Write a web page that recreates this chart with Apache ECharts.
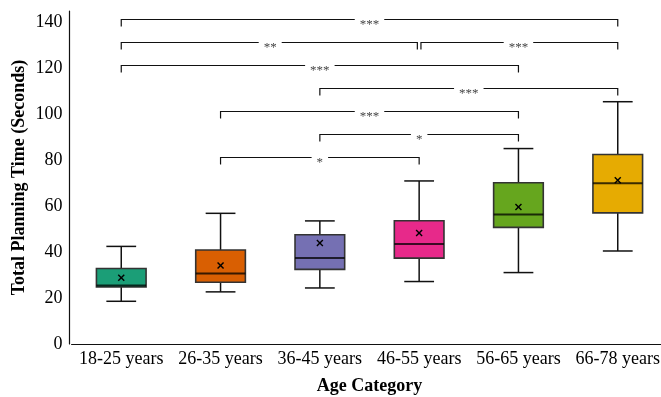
<!DOCTYPE html>
<html><head><meta charset="utf-8">
<script src="https://cdn.jsdelivr.net/npm/echarts@6/dist/echarts.min.js"></script>
<style>html,body{margin:0;padding:0;background:#fff}#c{width:661px;height:397px}</style>
</head><body><div id="c"></div>
<script>
var categories = ['18-25 years','26-35 years','36-45 years','46-55 years','56-65 years','66-78 years'];
var whiskerLow  = [18.6, 22.7, 24.4, 27.2, 31.1, 40.5];
var q1          = [24.8, 26.9, 32.5, 37.4, 50.8, 57.1];
var median      = [25.5, 30.7, 37.4, 43.5, 56.4, 70.0];
var q3          = [32.9, 40.9, 47.6, 53.7, 70.2, 82.5];
var whiskerHigh = [42.5, 56.9, 53.6, 71.0, 85.1, 105.5];
var means       = [28.8, 34.2, 44.0, 48.3, 59.7, 71.3];
var boxColors = ['#1b9e77','#d95f02','#7570b3','#e7298a','#66a61e','#e6ab02'];
var yTicks = [0, 20, 40, 60, 80, 100, 120, 140];

var bracketFrom   = [0, 0, 3, 0, 2, 1, 2, 1];
var bracketTo     = [5, 3, 5, 4, 5, 4, 4, 3];
var bracketLevel  = [141.5, 131.5, 131.5, 121.5, 111.5, 101.5, 91.5, 81.5];
var bracketLabels = ['***', '**', '***', '***', '***', '***', '*', '*'];

var boxData = categories.map(function (c, i) {
  return [i, whiskerLow[i], q1[i], median[i], q3[i], whiskerHigh[i], means[i]];
});
var bracketData = bracketFrom.map(function (f, i) {
  return [f, bracketTo[i], bracketLevel[i]];
});

function renderBox(params, api) {
  var i = api.value(0);
  var bw = api.size([1, 0])[0] * 0.5;
  var cw = api.size([1, 0])[0] * 0.3;
  var pLow = api.coord([i, api.value(1)]);
  var pQ1 = api.coord([i, api.value(2)]);
  var pMed = api.coord([i, api.value(3)]);
  var pQ3 = api.coord([i, api.value(4)]);
  var pHigh = api.coord([i, api.value(5)]);
  var pMean = api.coord([i, api.value(6)]);
  var x = pQ1[0];
  var wStyle = {stroke: '#111', lineWidth: 1.5};
  var m = 3;
  return {
    type: 'group',
    children: [
      {type: 'line', shape: {x1: x, y1: pHigh[1], x2: x, y2: pQ3[1]}, style: wStyle},
      {type: 'line', shape: {x1: x, y1: pQ1[1], x2: x, y2: pLow[1]}, style: wStyle},
      {type: 'line', shape: {x1: x - cw / 2, y1: pHigh[1], x2: x + cw / 2, y2: pHigh[1]}, style: wStyle},
      {type: 'line', shape: {x1: x - cw / 2, y1: pLow[1], x2: x + cw / 2, y2: pLow[1]}, style: wStyle},
      {type: 'rect', shape: {x: x - bw / 2, y: pQ3[1], width: bw, height: pQ1[1] - pQ3[1]},
        style: {fill: boxColors[i], stroke: '#333', lineWidth: 1.6}},
      {type: 'line', shape: {x1: x - bw / 2, y1: pMed[1], x2: x + bw / 2, y2: pMed[1]},
        style: {stroke: 'rgba(0,0,0,0.75)', lineWidth: 2}},
      {type: 'line', shape: {x1: pMean[0] - m, y1: pMean[1] - m, x2: pMean[0] + m, y2: pMean[1] + m},
        style: {stroke: '#000', lineWidth: 1.4}},
      {type: 'line', shape: {x1: pMean[0] - m, y1: pMean[1] + m, x2: pMean[0] + m, y2: pMean[1] - m},
        style: {stroke: '#000', lineWidth: 1.4}}
    ]
  };
}

function renderBracket(params, api) {
  var idx = params.dataIndex;
  var f = api.value(0), t = api.value(1), lv = api.value(2);
  var p1 = api.coord([f, lv]);
  var p2 = api.coord([t, lv]);
  var x1 = p1[0], x2 = p2[0], y = Math.round(p1[1]) + 0.5;
  // inset where two brackets at the same level share an endpoint
  for (var k = 0; k < bracketLevel.length; k++) {
    if (k === idx || bracketLevel[k] !== bracketLevel[idx]) continue;
    if (bracketTo[k] === f) x1 += 1.8;
    if (bracketFrom[k] === t) x2 -= 1.8;
  }
  var drop = 7;
  var st = {stroke: '#111', lineWidth: 1.2, fill: null};
  return {
    type: 'group',
    children: [
      {type: 'polyline', shape: {points: [[x1, y + drop], [x1, y], [x2, y], [x2, y + drop]]}, style: st},
      {type: 'text', x: (p1[0] + p2[0]) / 2, y: y + 5,
        style: {text: bracketLabels[idx], fill: '#444', font: '13px "Liberation Serif"',
          align: 'center', verticalAlign: 'middle', backgroundColor: '#fff', padding: [1, 5, 0, 5]}}
    ]
  };
}

var chart = echarts.init(document.getElementById('c'), null, {renderer: 'canvas'});
chart.setOption({
  animation: false,
  backgroundColor: '#fff',
  grid: {left: 71.6, right: -6.4, top: 11, bottom: 53, containLabel: false, outerBoundsMode: 'none'},
  xAxis: {
    type: 'category', data: categories,
    axisLine: {lineStyle: {color: '#111', width: 1.2}},
    axisTick: {show: false},
    axisLabel: {color: '#000', fontSize: 18, fontFamily: 'Liberation Serif', margin: 6, interval: 0},
    name: 'Age Category', nameLocation: 'middle', nameGap: 33, nameMoveOverlap: false,
    nameTextStyle: {color: '#000', fontSize: 18, fontWeight: 'bold', fontFamily: 'Liberation Serif'}
  },
  yAxis: {
    type: 'value', min: 0, max: 145, interval: 20, offset: 2,
    axisLine: {show: true, lineStyle: {color: '#111', width: 1.2}},
    axisTick: {show: false},
    splitLine: {show: false},
    axisLabel: {color: '#000', fontSize: 18, fontFamily: 'Liberation Serif', margin: 7,
      formatter: function (v) { return yTicks.indexOf(v) >= 0 ? String(v) : ''; }},
    name: 'Total Planning Time (Seconds)', nameLocation: 'middle', nameGap: 41, nameMoveOverlap: false,
    nameTextStyle: {color: '#000', fontSize: 18, fontWeight: 'bold', fontFamily: 'Liberation Serif'}
  },
  series: [
    {type: 'custom', renderItem: renderBox, data: boxData, encode: {x: 0, y: [1, 2, 3, 4, 5, 6]}, clip: false},
    {type: 'custom', renderItem: renderBracket, data: bracketData, encode: {x: [0, 1], y: 2}, clip: false}
  ]
});
</script></body></html>
